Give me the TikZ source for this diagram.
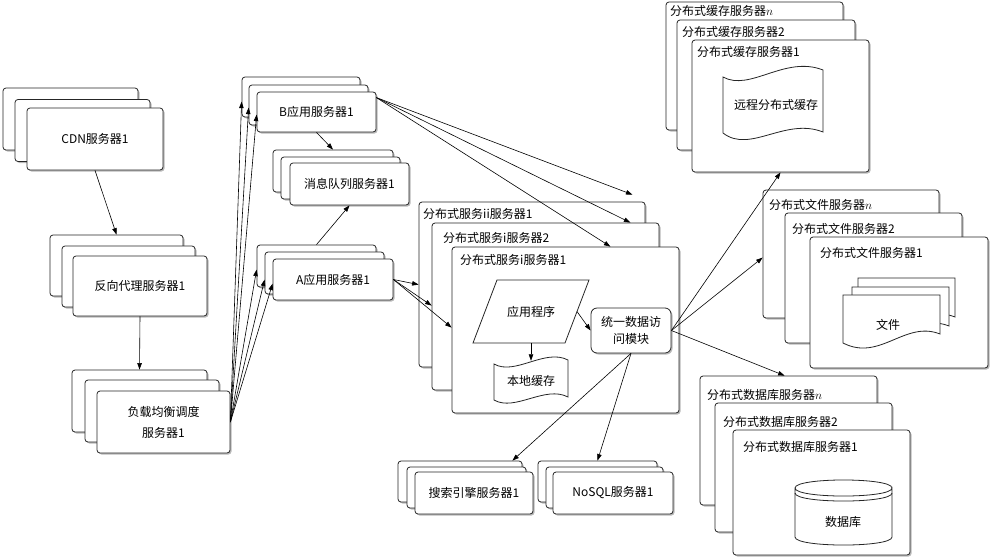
\documentclass[tikz,border=0pt]{standalone}
\usepackage{fontspec}
\setmainfont{Noto Sans CJK SC}
\usetikzlibrary{shapes.geometric,shadows,arrows.meta,calc}
\newcommand{\nn}{{\fontsize{13}{14}\selectfont$n$}}
\begin{document}
\begin{tikzpicture}[x=1pt,y=-1pt,
  font=\fontsize{12}{14}\selectfont,
  box/.style={draw=black!85, fill=white, rounded corners=3pt, line width=0.8pt, inner sep=0pt,
    drop shadow={shadow xshift=1.5pt, shadow yshift=-1.5pt, fill=black!45, opacity=0.6}},
  arr/.style={-{Triangle[length=6.5pt,width=4.5pt]}, line width=0.6pt},
  lbl/.style={anchor=west, inner sep=0pt},
  shp/.style={draw=black!85, fill=white, line width=0.8pt},
  doc/.pic={\draw[shp] (843,295) -- (940,295) -- (940,334) .. controls (905,320) and (880,362) .. (843,343) -- cycle;}
]
\fill[white] (0,0) rectangle (1000,557);
\useasboundingbox (0,0) rectangle (1000,557);

% CDN
\node[box, minimum width=135pt, minimum height=62pt] (c1) at (70.5,119) {};
\node[box, minimum width=135pt, minimum height=62pt] (c2) at (82.5,130.5) {};
\node[box, minimum width=136pt, minimum height=62pt] (c3) at (95,139) {CDN服务器1};

% reverse proxy
\node[box, minimum width=133pt, minimum height=61pt] (r1) at (116.5,265.5) {};
\node[box, minimum width=133pt, minimum height=61pt] (r2) at (128.5,276.5) {};
\node[box, minimum width=134pt, minimum height=60pt] (r3) at (140,286) {反向代理服务器1};

% load balancer
\node[box, minimum width=135pt, minimum height=62pt] (l1) at (139.5,401) {};
\node[box, minimum width=134pt, minimum height=62pt] (l2) at (152,411) {};
\node[box, minimum width=133pt, minimum height=62pt, align=center, font=\fontsize{12}{21}\selectfont] (l3) at (163.5,422) {负载均衡调度\\服务器1};

% B app
\node[box, minimum width=118pt, minimum height=40pt] (b1) at (301,97) {};
\node[box, minimum width=119pt, minimum height=40pt] (b2) at (308.5,105) {};
\node[box, minimum width=119pt, minimum height=40pt] (b3) at (316.5,112) {B应用服务器1};

% MQ
\node[box, minimum width=120pt, minimum height=42pt] (q1) at (333,171) {};
\node[box, minimum width=119pt, minimum height=42pt] (q2) at (340.5,178) {};
\node[box, minimum width=119pt, minimum height=42pt] (q3) at (349.5,184) {消息队列服务器1};

% A app
\node[box, minimum width=119pt, minimum height=42pt] (a1) at (316.5,266) {};
\node[box, minimum width=119pt, minimum height=42pt] (a2) at (324.5,273) {};
\node[box, minimum width=120pt, minimum height=41pt] (a3) at (333,279.5) {A应用服务器1};

% distributed service
\node[box, minimum width=226pt, minimum height=165pt] (d1) at (532,284.5) {};
\node[lbl] (dl1) at (423,214) {分布式服务ii服务器1};
\node[box, minimum width=227pt, minimum height=167pt] (d2) at (545.5,306.5) {};
\node[lbl] (dl2) at (443,238) {分布式服务i服务器2};
\node[box, minimum width=227pt, minimum height=166pt] (d3) at (565.5,330) {};
\node[lbl] (dl3) at (460,260) {分布式服务i服务器1};
\draw[shp] (497,280) -- (589,280) -- (565,343) -- (473,343) -- cycle;
\node[minimum width=92pt, minimum height=63pt, inner sep=0pt] (app) at (531,311.5) {应用程序};
\coordinate (appE) at (577,311.5);
\node[box, rounded corners=6pt, minimum width=80pt, minimum height=45pt, align=center,
  font=\fontsize{12}{17}\selectfont] (uni) at (631,330.5) {统一数据访\\问模块};
\draw[shp] (494,364) .. controls (515,376) and (545,348) .. (568,360) -- (568,397)
  .. controls (545,385) and (515,412) .. (494,400) -- cycle;
\node[minimum width=74pt, minimum height=40pt, inner sep=0pt] (lc) at (531,381) {本地缓存};

% distributed cache
\node[box, minimum width=177pt, minimum height=128pt] (k1) at (754.5,66) {};
\node[lbl] (kl1) at (670,11) {分布式缓存服务器\nn};
\node[box, minimum width=178pt, minimum height=130pt] (k2) at (766,85) {};
\node[lbl] (kl2) at (682,32) {分布式缓存服务器2};
\node[box, minimum width=177pt, minimum height=132pt] (k3) at (780.5,106) {};
\node[lbl] (kl3) at (697,52) {分布式缓存服务器1};
\draw[shp] (723,77) .. controls (750,92) and (785,55) .. (823,70) -- (823,132)
  .. controls (785,117) and (750,154) .. (723,133) -- cycle;
\node (rc) at (776,105) {远程分布式缓存};

% distributed file
\node[box, minimum width=176pt, minimum height=128pt] (f1) at (851,254) {};
\node[lbl] (fl1) at (769,205) {分布式文件服务器\nn};
\node[box, minimum width=177pt, minimum height=130pt] (f2) at (873.5,278) {};
\node[lbl] (fl2) at (792,229) {分布式文件服务器2};
\node[box, minimum width=178pt, minimum height=131pt] (f3) at (899,302.5) {};
\node[lbl] (fl3) at (820,253) {分布式文件服务器1};
\pic[shift={(15,-17)}] {doc};
\pic[shift={(9,-8)}] {doc};
\pic {doc};
\node (wj) at (888,325) {文件};

% distributed database
\node[box, minimum width=177pt, minimum height=129pt] (db1) at (788.5,440.5) {};
\node[lbl] (dbl1) at (707,395) {分布式数据库服务器\nn};
\node[box, minimum width=177pt, minimum height=129pt] (db2) at (803.5,467.5) {};
\node[lbl] (dbl2) at (723,422) {分布式数据库服务器2};
\node[box, minimum width=177pt, minimum height=125pt] (db3) at (821.5,492.5) {};
\node[lbl] (dbl3) at (743,447) {分布式数据库服务器1};
\draw[shp] (795,488) -- (795,537) .. controls (795,547.7) and (892,547.7) .. (892,537) -- (892,488)
  .. controls (892,498.7) and (795,498.7) .. (795,488) .. controls (795,477.3) and (892,477.3) .. (892,488);
\draw[line width=0.8pt, draw=black!85] (795,493) .. controls (795,503.7) and (892,503.7) .. (892,493);
\node (sjk) at (843,522) {数据库};

% search
\node[box, minimum width=124pt, minimum height=41pt] (s1) at (460,481.5) {};
\node[box, minimum width=119pt, minimum height=41pt] (s2) at (466.5,487.5) {};
\node[box, minimum width=118pt, minimum height=42pt] (s3) at (474,493) {搜索引擎服务器1};

% NoSQL
\node[box, minimum width=119pt, minimum height=41pt] (n1) at (597.5,481.5) {};
\node[box, minimum width=117pt, minimum height=41pt] (n2) at (604.5,487.5) {};
\node[box, minimum width=120pt, minimum height=42pt] (n3) at (613,493) {NoSQL服务器1};

% connectors
\draw[arr] (c3.south) -- (r1.north);
\draw[arr] (r3.south) -- (l1.north);
\draw[arr] (l3.east) -- ([yshift=-25pt]b1.north west);
\draw[arr] (l3.east) -- ([yshift=-23pt]b2.north west);
\draw[arr] (l3.east) -- ([yshift=-23pt]b3.north west);
\draw[arr] (l3.east) -- ([yshift=-25pt]a1.north west);
\draw[arr] (l3.east) -- ([yshift=-28pt]a2.north west);
\draw[arr] (l3.east) -- ([yshift=-25pt]a3.north west);
\draw[arr] (b3.south) -- (q1.north);
\draw[arr] (a1.north) -- (q3.south);
\draw[arr] ([yshift=-6pt]b3.north east) -- ([xshift=-13pt,yshift=7pt]d1.north east);
\draw[arr] ([yshift=-6pt]b3.north east) -- ([xshift=-29pt]d2.north east);
\draw[arr] ([yshift=-6pt]b3.north east) -- ([xshift=-69pt]d3.north east);
\draw[arr] (a3.east) -- ([yshift=-83pt]d1.north west);
\draw[arr] (a3.east) -- ([yshift=-83pt]d2.north west);
\draw[arr] (a3.east) -- ([yshift=-81pt]d3.north west);
\draw[arr] (appE) -- (uni.west);
\draw[arr] (app.south) -- (lc.north);
\draw[arr] (uni.east) -- (k3.south);
\draw[arr] (uni.east) -- ([yshift=-68pt]f1.north west);
\draw[arr] (uni.east) -- ([xshift=85pt]db1.north west);
\draw[arr] (uni.south) -- ([xshift=-10pt]s1.north east);
\draw[arr] (uni.south) -- (n1.north);
\end{tikzpicture}
\end{document}
